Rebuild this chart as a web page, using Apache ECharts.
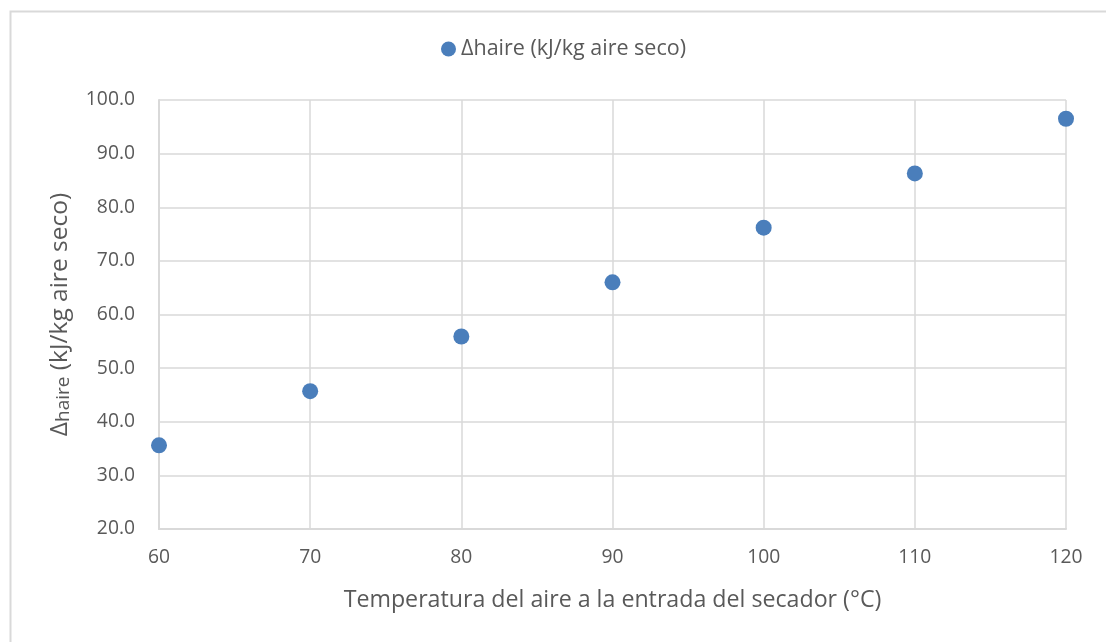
<!DOCTYPE html>
<html>
<head>
<meta charset="utf-8">
<script src="https://cdn.jsdelivr.net/npm/echarts@6/dist/echarts.min.js"></script>
<style>
html,body{margin:0;padding:0;background:#fff;}
#chart{width:1106px;height:642px;}
</style>
</head>
<body>
<div id="chart"></div>
<script>
const temperatures = [60, 70, 80, 90, 100, 110, 120];
const deltaH = [35.6, 45.7, 55.9, 66.0, 76.2, 86.3, 96.5];
const seriesName = 'Δhaire (kJ/kg aire seco)';
const xTitle = 'Temperatura del aire a la entrada del secador (°C)';

const chart = echarts.init(document.getElementById('chart'));
const font = '"Open Sans", "Liberation Sans", sans-serif';
const txt = '#595959';
chart.setOption({
  animation: false,
  backgroundColor: '#fff',
  textStyle: {fontFamily: font},
  graphic: [{
    type: 'rect', left: 8, top: 9, shape: {x: 0, y: 0, width: 1200, height: 700},
    style: {fill: 'none', stroke: '#d9d9d9', lineWidth: 2}, silent: true
  }],
  legend: {
    top: 38, left: 441, itemWidth: 15, itemHeight: 15, itemGap: 6, padding: 0,
    textStyle: {color: txt, fontSize: 21.5, fontFamily: font},
    data: [{name: seriesName, icon: 'circle'}]
  },
  grid: {left: 159, right: 40, top: 100, bottom: 113, containLabel: false},
  xAxis: {
    type: 'value', min: 60, max: 120, interval: 10,
    name: xTitle, nameLocation: 'middle', nameGap: 60,
    nameTextStyle: {color: txt, fontSize: 23.2, fontFamily: font},
    axisLine: {show: true, lineStyle: {color: '#d9d9d9', width: 2}},
    axisTick: {show: false},
    axisLabel: {color: txt, fontSize: 19.3, margin: 19, fontFamily: font},
    splitLine: {show: true, lineStyle: {color: '#d9d9d9', width: 1.5}}
  },
  yAxis: {
    type: 'value', min: 20, max: 100, interval: 10,
    name: '{a|Δ}{b|haire}{a| (kJ/kg aire seco)}', nameLocation: 'middle', nameGap: 86, nameRotate: 90,
    nameTextStyle: {color: txt, fontFamily: font, rich: {
      a: {fontSize: 24.5, color: txt, fontFamily: font},
      b: {fontSize: 19, color: txt, fontFamily: font, verticalAlign: 'bottom'}
    }},
    axisLine: {show: true, lineStyle: {color: '#d9d9d9', width: 2}},
    axisTick: {show: false},
    axisLabel: {color: txt, fontSize: 19.3, margin: 24, fontFamily: font, formatter: v => v.toFixed(1)},
    splitLine: {show: true, lineStyle: {color: '#d9d9d9', width: 1.5}}
  },
  series: [{
    name: seriesName, type: 'scatter', symbol: 'circle', symbolSize: 16,
    itemStyle: {color: '#4a7ebb', opacity: 1},
    data: temperatures.map((t, i) => [t, deltaH[i]])
  }]
});
</script>
</body>
</html>
